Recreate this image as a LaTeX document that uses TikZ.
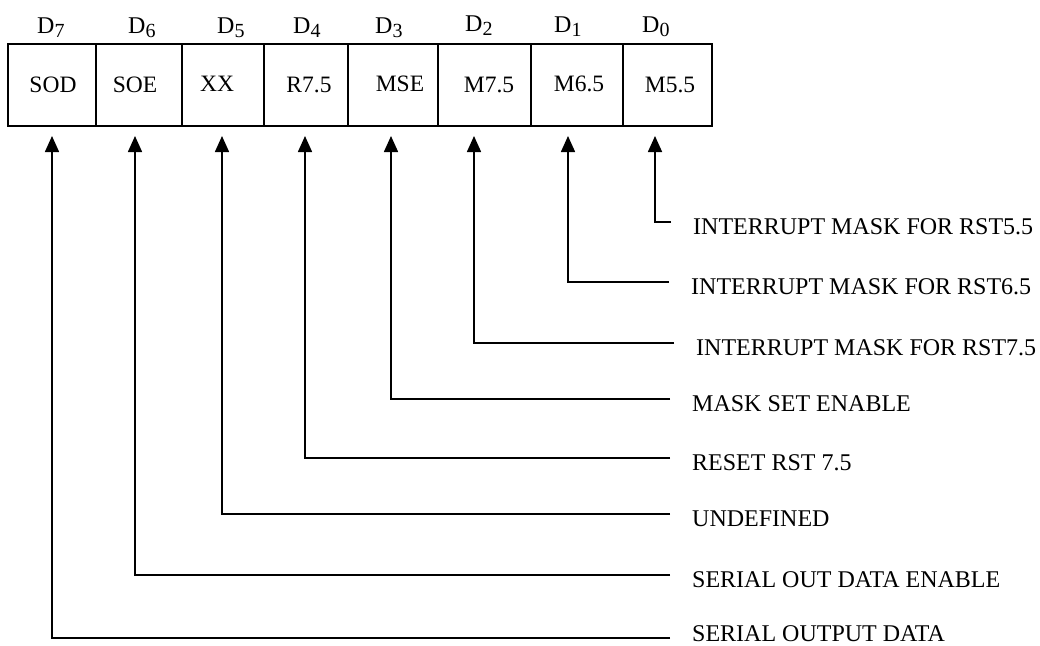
\documentclass[tikz,border=0pt]{standalone}
\usepackage{fontspec}
\setmainfont{Liberation Serif}
\usetikzlibrary{arrows.meta}
\begin{document}
\begin{tikzpicture}[x=1pt,y=-1pt,
  cellbox/.style={draw,line width=1.6pt,minimum height=82pt,inner sep=0pt,
    font=\fontsize{23.5}{26}\selectfont},
  bitlbl/.style={anchor=base west,inner sep=0pt,font=\fontsize{24}{26}\selectfont},
  desc/.style={anchor=west,inner xsep=22pt,inner ysep=0pt,text height=24pt,text depth=0pt,
    font=\fontsize{24}{26}\selectfont},
  conn/.style={line width=1.6pt,-{Triangle[length=16pt,width=14pt]}}]
\useasboundingbox (0,0) rectangle (1040,645);
% register cells
\node[cellbox,minimum width=88pt] (c7) at (52,85) {\hspace{2pt}SOD};
\node[cellbox,minimum width=86pt] (c6) at (139,85) {\hspace{-8pt}SOE};
\node[cellbox,minimum width=82pt] (c5) at (223,85) {\hspace{-12pt}\raisebox{3pt}{XX}};
\node[cellbox,minimum width=84pt] (c4) at (306,85) {\hspace{6pt}R7.5};
\node[cellbox,minimum width=90pt] (c3) at (393,85) {\hspace{14pt}\raisebox{3pt}{MSE}};
\node[cellbox,minimum width=93pt] (c2) at (484.5,85) {\hspace{9pt}M7.5};
\node[cellbox,minimum width=92pt] (c1) at (577,85) {\hspace{4pt}\raisebox{2pt}{M6.5}};
\node[cellbox,minimum width=89pt] (c0) at (667.5,85) {\hspace{5pt}M5.5};
% bit labels
\newcommand{\bitsub}[1]{D\raisebox{-4pt}{\fontsize{20}{20}\selectfont #1}}
\node[bitlbl] (d7) at (37,33) {\bitsub{7}};
\node[bitlbl] (d6) at (128,33) {\bitsub{6}};
\node[bitlbl] (d5) at (217,33) {\bitsub{5}};
\node[bitlbl] (d4) at (293,33) {\bitsub{4}};
\node[bitlbl] (d3) at (375,33) {\bitsub{3}};
\node[bitlbl] (d2) at (465,31) {\bitsub{2}};
\node[bitlbl] (d1) at (554,32) {\bitsub{1}};
\node[bitlbl] (d0) at (642,32) {\bitsub{0}};
% arrow tips
\coordinate (a7) at (52,136);
\coordinate (a6) at (135,136);
\coordinate (a5) at (222,136);
\coordinate (a4) at (305,136);
\coordinate (a3) at (391,136);
\coordinate (a2) at (474,136);
\coordinate (a1) at (568,136);
\coordinate (a0) at (655,136);
% descriptions
\node[desc] (l0) at (671,222) {INTERRUPT MASK FOR RST5.5};
\node[desc] (l1) at (669,282) {INTERRUPT MASK FOR RST6.5};
\node[desc] (l2) at (674,343) {INTERRUPT MASK FOR RST7.5};
\node[desc] (l3) at (670,399) {MASK SET ENABLE};
\node[desc] (l4) at (670,458) {RESET RST 7.5};
\node[desc] (l5) at (670,514) {UNDEFINED};
\node[desc] (l6) at (670,575) {SERIAL OUT DATA ENABLE};
\node[desc,text height=6pt] (l7) at (670,638) {SERIAL OUTPUT DATA};
% connectors
\foreach \i in {0,...,7}{
  \draw[conn] (l\i.west) -| (a\i);
}
\end{tikzpicture}
\end{document}
